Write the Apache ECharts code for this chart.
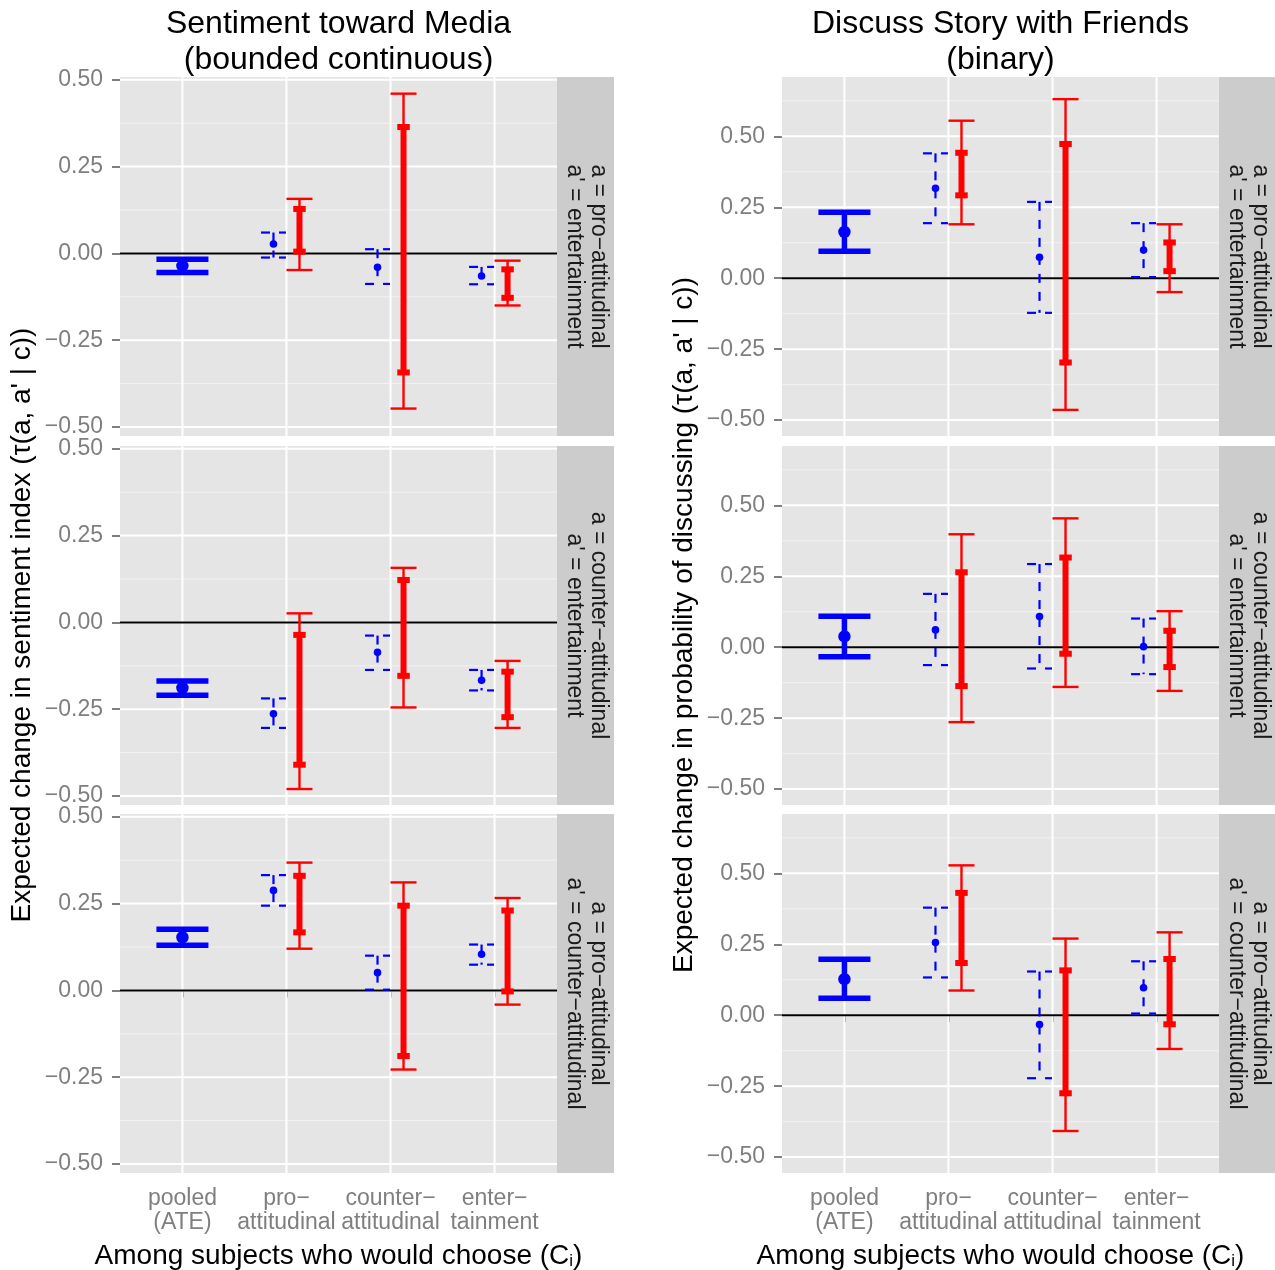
<!DOCTYPE html>
<html><head><meta charset="utf-8">
<script src="https://cdn.jsdelivr.net/npm/echarts@6/dist/echarts.min.js"></script>
<style>html,body{margin:0;padding:0;background:#fff}#c{width:1275px;height:1270px}</style>
</head><body><div id="c"></div>
<script>
// ---------- data ----------
const categories = ['pooled\n(ATE)', 'pro\u2212\nattitudinal', 'counter\u2212\nattitudinal', 'enter\u2212\ntainment'];
const categoryPos = [1, 2, 3, 4];
const yTicks = [-0.5, -0.25, 0, 0.25, 0.5];
const yTickLabels = ['\u22120.50', '\u22120.25', '0.00', '0.25', '0.50'];
const yMinorLeft = [-0.375, -0.125, 0.125, 0.375];
const yMinorRight = [-0.375, -0.125, 0.125, 0.375, 0.625];
const sentRange = [-0.526, 0.508];
const discRange = [-0.556, 0.709];
const rowStrips = [
  "a = pro\u2212attitudinal\na' = entertainment",
  "a = counter\u2212attitudinal\na' = entertainment",
  "a = pro\u2212attitudinal\na' = counter\u2212attitudinal"
];
const panelTitles = ['Sentiment toward Media\n(bounded continuous)', 'Discuss Story with Friends\n(binary)'];
const yTitles = ["Expected change in sentiment index (\u03c4(a, a' | c))",
                 "Expected change in probability of discussing (\u03c4(a, a' | c))"];
const xTitleMain = 'Among subjects who would choose (C';
const xTitleSub = 'i';

// Sentiment: per row [lo, est, hi] for the pooled ATE
const sentPooled = [[-0.055, -0.036, -0.017], [-0.210, -0.189, -0.169], [0.130, 0.153, 0.176]];
// per row, per subgroup (pro, counter, enter)
const sentEst     = [[0.027, -0.040, -0.065], [-0.263, -0.086, -0.167], [0.288, 0.051, 0.104]];
const sentEstLo   = [[-0.012, -0.088, -0.089], [-0.304, -0.137, -0.196], [0.244, 0.002, 0.074]];
const sentEstHi   = [[0.060, 0.012, -0.039], [-0.219, -0.038, -0.137], [0.332, 0.100, 0.132]];
const sentOuterLo = [[-0.048, -0.447, -0.150], [-0.480, -0.245, -0.304], [0.120, -0.228, -0.041]];
const sentOuterHi = [[0.157, 0.460, -0.021], [0.026, 0.157, -0.111], [0.368, 0.311, 0.266]];
const sentInnerLo = [[0.005, -0.343, -0.128], [-0.410, -0.154, -0.273], [0.167, -0.189, -0.003]];
const sentInnerHi = [[0.128, 0.364, -0.046], [-0.036, 0.122, -0.142], [0.330, 0.244, 0.230]];

// Discuss: same layout
const discPooled  = [[0.095, 0.163, 0.232], [-0.034, 0.038, 0.109], [0.060, 0.127, 0.197]];
const discEst     = [[0.317, 0.074, 0.099], [0.061, 0.108, 0.002], [0.256, -0.033, 0.097]];
const discEstLo   = [[0.194, -0.122, 0.004], [-0.063, -0.075, -0.095], [0.133, -0.222, 0.006]];
const discEstHi   = [[0.440, 0.269, 0.194], [0.188, 0.293, 0.101], [0.379, 0.154, 0.190]];
const discOuterLo = [[0.190, -0.464, -0.049], [-0.264, -0.140, -0.154], [0.087, -0.408, -0.119]];
const discOuterHi = [[0.555, 0.631, 0.190], [0.398, 0.454, 0.127], [0.528, 0.270, 0.292]];
const discInnerLo = [[0.292, -0.297, 0.025], [-0.137, -0.023, -0.070], [0.184, -0.275, -0.032]];
const discInnerHi = [[0.442, 0.473, 0.126], [0.264, 0.316, 0.058], [0.431, 0.158, 0.198]];

// ---------- layout / style ----------
const FONT = "'Liberation Sans', Arial, Helvetica, sans-serif";
const BLUE = '#0000FF', RED = '#FF0000';
const GREY_TXT = '#7F7F7F';
const rowTops = [77, 446, 814];
const rowHeight = 359;
const plotWidth = 437;
const stripWidth = 57;

const panels = [
  {left: 120, range: sentRange, minor: yMinorLeft, pooled: sentPooled, est: sentEst, estLo: sentEstLo, estHi: sentEstHi,
   oLo: sentOuterLo, oHi: sentOuterHi, iLo: sentInnerLo, iHi: sentInnerHi, yTitleX: 22},
  {left: 782, range: discRange, minor: yMinorRight, pooled: discPooled, est: discEst, estLo: discEstLo, estHi: discEstHi,
   oLo: discOuterLo, oHi: discOuterHi, iLo: discInnerLo, iHi: discInnerHi, yTitleX: 684}
];

function ln(x1, y1, x2, y2, color, w, dash) {
  return {type: 'line', shape: {x1, y1, x2, y2},
    style: {stroke: color, lineWidth: w, lineCap: 'butt', lineDash: dash || null}};
}

function renderGridLines(params, api) {
  const cs = params.coordSys;
  const v = api.value(0), k = api.value(1);
  if (k === 2) {
    const px = api.coord([v, 0])[0];
    return ln(px, cs.y, px, cs.y + cs.height, '#FFFFFF', 2);
  }
  const py = api.coord([1, v])[1];
  if (k === 1) return ln(cs.x, py, cs.x + cs.width, py, '#F2F2F2', 1);
  return ln(cs.x, py, cs.x + cs.width, py, '#FFFFFF', 2);
}
function renderZero(params, api) {
  const cs = params.coordSys;
  const py = api.coord([1, api.value(0)])[1];
  return ln(cs.x, py, cs.x + cs.width, py, '#000000', 2);
}
function renderPooled(params, api) {
  const x = api.value(0);
  const lo = api.coord([x, api.value(1)]), est = api.coord([x, api.value(2)]), hi = api.coord([x, api.value(3)]);
  const xl = api.coord([x - 0.25, 0])[0], xr = api.coord([x + 0.25, 0])[0];
  return {type: 'group', children: [
    ln(hi[0], hi[1], lo[0], lo[1], BLUE, 5.5),
    ln(xl, hi[1], xr, hi[1], BLUE, 5.5),
    ln(xl, lo[1], xr, lo[1], BLUE, 5.5),
    {type: 'circle', shape: {cx: est[0], cy: est[1], r: 6.2}, style: {fill: BLUE}}
  ]};
}
function renderSub(params, api) {
  const x = api.value(0) - 0.125;
  const lo = api.coord([x, api.value(1)]), est = api.coord([x, api.value(2)]), hi = api.coord([x, api.value(3)]);
  const xl = api.coord([x - 0.12, 0])[0], xr = api.coord([x + 0.12, 0])[0];
  const d = [9, 9];
  return {type: 'group', children: [
    ln(xl, hi[1], xr, hi[1], BLUE, 2.2, d),
    ln(hi[0], hi[1], lo[0], lo[1], BLUE, 2.2, d),
    ln(xl, lo[1], xr, lo[1], BLUE, 2.2, d),
    {type: 'circle', shape: {cx: est[0], cy: est[1], r: 3.8}, style: {fill: BLUE}}
  ]};
}
function renderRed(params, api) {
  const x = api.value(0) + 0.125;
  const oLo = api.coord([x, api.value(1)]), iLo = api.coord([x, api.value(2)]);
  const iHi = api.coord([x, api.value(3)]), oHi = api.coord([x, api.value(4)]);
  const oxl = api.coord([x - 0.125, 0])[0], oxr = api.coord([x + 0.125, 0])[0];
  const ixl = api.coord([x - 0.06, 0])[0], ixr = api.coord([x + 0.06, 0])[0];
  return {type: 'group', children: [
    ln(oxl, oHi[1], oxr, oHi[1], RED, 2.4),
    ln(oHi[0], oHi[1], oLo[0], oLo[1], RED, 2.4),
    ln(oxl, oLo[1], oxr, oLo[1], RED, 2.4),
    ln(ixl, iHi[1], ixr, iHi[1], RED, 6),
    ln(iHi[0], iHi[1], iLo[0], iLo[1], RED, 6),
    ln(ixl, iLo[1], ixr, iLo[1], RED, 6)
  ]};
}

function tickLabel(v) {
  for (let i = 0; i < yTicks.length; i++) if (Math.abs(yTicks[i] - v) < 1e-9) return yTickLabels[i];
  return '';
}

const grids = [], xAxes = [], yAxes = [], series = [], graphics = [];
panels.forEach((P, p) => {
  for (let r = 0; r < 3; r++) {
    const idx = p * 3 + r;
    grids.push({left: P.left, top: rowTops[r], width: plotWidth, height: rowHeight,
      show: true, backgroundColor: '#E5E5E5', borderWidth: 0});
    xAxes.push({type: 'value', gridIndex: idx, min: 0.4, max: 4.6,
      axisLine: {show: false}, splitLine: {show: false},
      axisTick: {show: r === 2, customValues: categoryPos, length: 7, lineStyle: {color: GREY_TXT, width: 2}},
      axisLabel: {show: r === 2, customValues: categoryPos, formatter: v => categories[Math.round(v) - 1],
        color: GREY_TXT, fontSize: 23, lineHeight: 24, margin: 14, fontFamily: FONT}});
    yAxes.push({type: 'value', gridIndex: idx, min: P.range[0], max: P.range[1],
      axisLine: {show: false}, splitLine: {show: false},
      axisTick: {show: true, customValues: yTicks, length: 8, lineStyle: {color: GREY_TXT, width: 2}},
      axisLabel: {show: true, customValues: yTicks, formatter: tickLabel,
        color: GREY_TXT, fontSize: 23, margin: 17, fontFamily: FONT}});

    const gl = [];
    P.minor.forEach(v => gl.push([v, 1]));
    yTicks.forEach(v => gl.push([v, 0]));
    categoryPos.forEach(v => gl.push([v, 2]));
    series.push({type: 'custom', xAxisIndex: idx, yAxisIndex: idx, silent: true, z: 1,
      renderItem: renderGridLines, data: gl, clip: false});
    series.push({type: 'custom', xAxisIndex: idx, yAxisIndex: idx, silent: true, z: 2,
      renderItem: renderZero, data: [[0]], encode: {y: 0}, clip: false});

    const sub = [], red = [];
    for (let j = 0; j < 3; j++) {
      sub.push([categoryPos[j + 1], P.estLo[r][j], P.est[r][j], P.estHi[r][j]]);
      red.push([categoryPos[j + 1], P.oLo[r][j], P.iLo[r][j], P.iHi[r][j], P.oHi[r][j]]);
    }
    series.push({type: 'custom', xAxisIndex: idx, yAxisIndex: idx, silent: true, z: 3,
      renderItem: renderSub, data: sub, encode: {x: 0, y: [1, 2, 3]}, clip: false});
    series.push({type: 'custom', xAxisIndex: idx, yAxisIndex: idx, silent: true, z: 3,
      renderItem: renderPooled, data: [[categoryPos[0]].concat(P.pooled[r])], encode: {x: 0, y: [1, 2, 3]}, clip: false});
    series.push({type: 'custom', xAxisIndex: idx, yAxisIndex: idx, silent: true, z: 4,
      renderItem: renderRed, data: red, encode: {x: 0, y: [1, 2, 3, 4]}, clip: false});

    // strip
    const sx = P.left + plotWidth;
    graphics.push({type: 'rect', shape: {x: sx, y: rowTops[r], width: stripWidth, height: rowHeight},
      style: {fill: '#CCCCCC'}, silent: true});
    graphics.push({type: 'text', x: sx + stripWidth / 2 + 0.5, y: rowTops[r] + rowHeight / 2, rotation: -Math.PI / 2,
      style: {text: rowStrips[r], fill: '#1A1A1A', fontSize: 23, fontFamily: FONT, lineHeight: 24,
        align: 'center', verticalAlign: 'middle', textAlign: 'center', textVerticalAlign: 'middle'}, silent: true});
  }
  const cx = P.left + plotWidth / 2;
  graphics.push({type: 'text', x: cx, y: 42,
    style: {text: panelTitles[p], fill: '#000', fontSize: 32, fontFamily: FONT, lineHeight: 36,
      align: 'center', verticalAlign: 'middle', textAlign: 'center', textVerticalAlign: 'middle'}, silent: true});
  graphics.push({type: 'text', x: P.yTitleX, y: 625, rotation: Math.PI / 2,
    style: {text: yTitles[p], fill: '#000', fontSize: 28, fontFamily: FONT,
      align: 'center', verticalAlign: 'middle', textAlign: 'center', textVerticalAlign: 'middle'}, silent: true});
  graphics.push({type: 'text', x: cx, y: 1254,
    style: {text: '{m|' + xTitleMain + '}{s|' + xTitleSub + '}{m|)}',
      rich: {m: {fontSize: 28, fontFamily: FONT, fill: '#000', lineHeight: 32, verticalAlign: 'bottom'},
             s: {fontSize: 17, fontFamily: FONT, fill: '#000', lineHeight: 17, verticalAlign: 'bottom'}},
      align: 'center', verticalAlign: 'middle', textAlign: 'center', textVerticalAlign: 'middle'}, silent: true});
});

const chart = echarts.init(document.getElementById('c'));
chart.setOption({
  animation: false,
  backgroundColor: '#FFFFFF',
  grid: grids, xAxis: xAxes, yAxis: yAxes, series: series,
  graphic: {elements: graphics}
});
</script>
</body></html>
